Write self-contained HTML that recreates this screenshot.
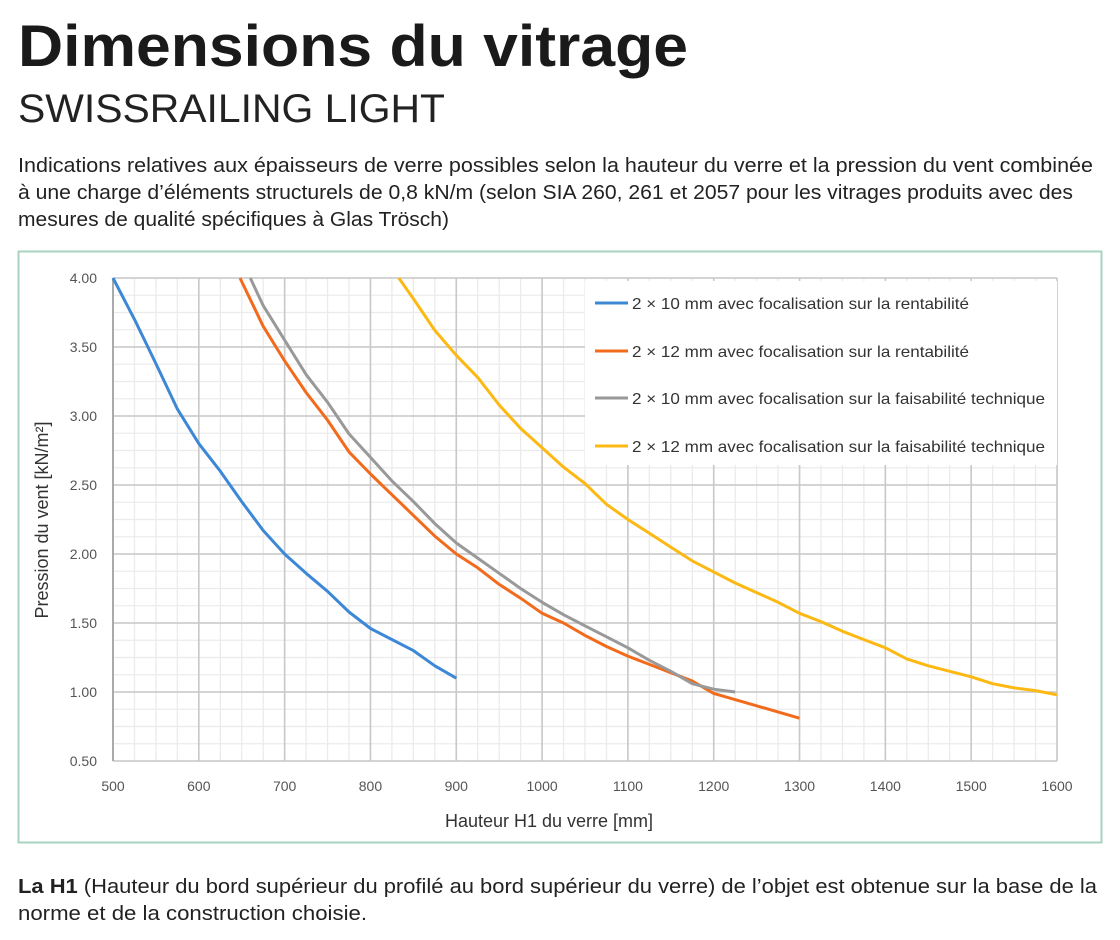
<!DOCTYPE html>
<html><head><meta charset="utf-8"><style>
html,body{margin:0;padding:0;background:#fff;}
svg{display:block;font-family:"Liberation Sans",sans-serif;}
</style></head><body>
<svg id="chart" width="1120" height="940" viewBox="0 0 1120 940" xmlns="http://www.w3.org/2000/svg">
<text x="18" y="66" font-size="58" font-weight="bold" fill="#1a1a1a" textLength="670" lengthAdjust="spacingAndGlyphs">Dimensions du vitrage</text>
<text x="18" y="122" font-size="40" fill="#222" textLength="427" lengthAdjust="spacingAndGlyphs">SWISSRAILING LIGHT</text>
<g font-size="20" fill="#222">
<text x="18" y="172" textLength="1075" lengthAdjust="spacingAndGlyphs">Indications relatives aux épaisseurs de verre possibles selon la hauteur du verre et la pression du vent combinée</text>
<text x="18" y="199" textLength="1055" lengthAdjust="spacingAndGlyphs">à une charge d’éléments structurels de 0,8 kN/m (selon SIA 260, 261 et 2057 pour les vitrages produits avec des</text>
<text x="18" y="226" textLength="431" lengthAdjust="spacingAndGlyphs">mesures de qualité spécifiques à Glas Trösch)</text>
</g>
<rect x="18.5" y="251.5" width="1083" height="591" fill="none" stroke="#a8d3c0" stroke-width="2"/>
<g id="grid"></g>
<g id="axes"></g>
<g id="series"></g>
<g id="legend"></g>
<text x="549" y="827" font-size="18" fill="#333" text-anchor="middle">Hauteur H1 du verre [mm]</text>
<text x="0" y="0" font-size="18" fill="#333" text-anchor="middle" transform="translate(48,520) rotate(-90)">Pression du vent [kN/m²]</text>
<g font-size="20" fill="#222">
<text x="18" y="893" textLength="1079" lengthAdjust="spacingAndGlyphs"><tspan font-weight="bold">La H1</tspan> (Hauteur du bord supérieur du profilé au bord supérieur du verre) de l’objet est obtenue sur la base de la</text>
<text x="18" y="920" textLength="349" lengthAdjust="spacingAndGlyphs">norme et de la construction choisie.</text>
</g>
</svg>
<script>
const xTicks=[500,600,700,800,900,1000,1100,1200,1300,1400,1500,1600];
const yTicks=[0.5,1.0,1.5,2.0,2.5,3.0,3.5,4.0];
const seriesNames=["2 × 10 mm avec focalisation sur la rentabilité","2 × 12 mm avec focalisation sur la rentabilité","2 × 10 mm avec focalisation sur la faisabilité technique","2 × 12 mm avec focalisation sur la faisabilité technique"];
const seriesColors=["#3d88d6","#f26b1d","#999999","#fdb913"];
const blueX=[500,525,550,575,600,625,650,675,700,725,750,775,800,850,875,900];
const blueY=[4.0,3.7,3.38,3.05,2.8,2.6,2.38,2.17,2.0,1.86,1.73,1.58,1.46,1.3,1.19,1.1];
const orangeX=[648,675,700,725,750,775,800,825,850,875,900,925,950,975,1000,1025,1050,1075,1100,1125,1150,1175,1200,1250,1300];
const orangeY=[4.0,3.65,3.4,3.17,2.97,2.74,2.58,2.43,2.28,2.13,2.0,1.9,1.78,1.68,1.57,1.5,1.41,1.33,1.26,1.2,1.14,1.08,0.99,0.9,0.81];
const grayX=[660,675,700,725,750,775,800,825,850,875,900,925,950,975,1000,1025,1050,1075,1100,1125,1150,1175,1200,1225];
const grayY=[4.0,3.8,3.55,3.3,3.1,2.87,2.7,2.53,2.38,2.22,2.08,1.97,1.86,1.75,1.65,1.56,1.48,1.4,1.32,1.23,1.15,1.06,1.02,1.0];
const yellowX=[833,850,875,900,925,950,975,1000,1025,1050,1075,1100,1125,1150,1175,1200,1225,1250,1275,1300,1325,1350,1375,1400,1425,1450,1475,1500,1525,1550,1575,1600];
const yellowY=[4.0,3.85,3.62,3.44,3.28,3.08,2.91,2.77,2.63,2.51,2.36,2.25,2.15,2.05,1.95,1.87,1.79,1.72,1.65,1.57,1.51,1.44,1.38,1.32,1.24,1.19,1.15,1.11,1.06,1.03,1.01,0.98];

const NS="http://www.w3.org/2000/svg";
const X0=113,X1=1057,Y0=761,Y1=278;
const xMin=500,xMax=1600,yMin=0.5,yMax=4.0;
const sx=v=>X0+(v-xMin)/(xMax-xMin)*(X1-X0);
const sy=v=>Y0-(v-yMin)/(yMax-yMin)*(Y0-Y1);
function mk(tag,attrs,parent){const e=document.createElementNS(NS,tag);for(const k in attrs)e.setAttribute(k,attrs[k]);parent.appendChild(e);return e;}
const grid=document.getElementById('grid'),axes=document.getElementById('axes'),ser=document.getElementById('series'),leg=document.getElementById('legend');
for(let v=xMin;v<=xMax;v+=25){const l=mk('line',{x1:sx(v),x2:sx(v),y1:Y1,y2:Y0,stroke:'#ebebeb','stroke-width':1.3},grid);

}
for(let v=yMin;v<=yMax+1e-9;v+=0.125){const l=mk('line',{x1:X0,x2:X1,y1:sy(v),y2:sy(v),stroke:'#ebebeb','stroke-width':1.3},grid);

}
xTicks.forEach(v=>{const l=mk('line',{x1:sx(v),x2:sx(v),y1:Y1,y2:Y0,stroke:'#c8c8c8','stroke-width':1.6},grid);


const t=mk('text',{x:sx(v),y:Y0+30,'font-size':14,fill:'#555','text-anchor':'middle'},axes);t.textContent=v;

});
yTicks.forEach(v=>{const l=mk('line',{x1:X0,x2:X1,y1:sy(v),y2:sy(v),stroke:'#c8c8c8','stroke-width':1.6},grid);


const t=mk('text',{x:97,y:sy(v)+5,'font-size':14,fill:'#555','text-anchor':'end'},axes);t.textContent=v.toFixed(2);

});
const ax=mk('line',{x1:X0,x2:X0,y1:Y1,y2:Y0,stroke:'#aaa','stroke-width':2},axes);


const lb=mk('rect',{x:585,y:281,width:472,height:184,fill:'#fff'},leg);


const all=[[blueX,blueY],[orangeX,orangeY],[grayX,grayY],[yellowX,yellowY]];
const names=['series-2x10-rentabilite','series-2x12-rentabilite','series-2x10-faisabilite','series-2x12-faisabilite'];
all.forEach((s,i)=>{const pts=s[0].map((x,j)=>sx(x).toFixed(1)+','+sy(s[1][j]).toFixed(1)).join(' ');
const p=mk('polyline',{points:pts,fill:'none',stroke:seriesColors[i],'stroke-width':3,'stroke-linejoin':'round'},ser);

});
const ly=[303,351,398,446];
const lw=[337,337,413,413];
seriesNames.forEach((n,i)=>{const g=mk('g',{},leg);


mk('line',{x1:595,x2:628,y1:ly[i],y2:ly[i],stroke:seriesColors[i],'stroke-width':3},g);
const t=mk('text',{x:632,y:ly[i]+6,'font-size':16,fill:'#333',textLength:lw[i],lengthAdjust:'spacingAndGlyphs'},g);t.textContent=n;});
</script>
</body></html>
